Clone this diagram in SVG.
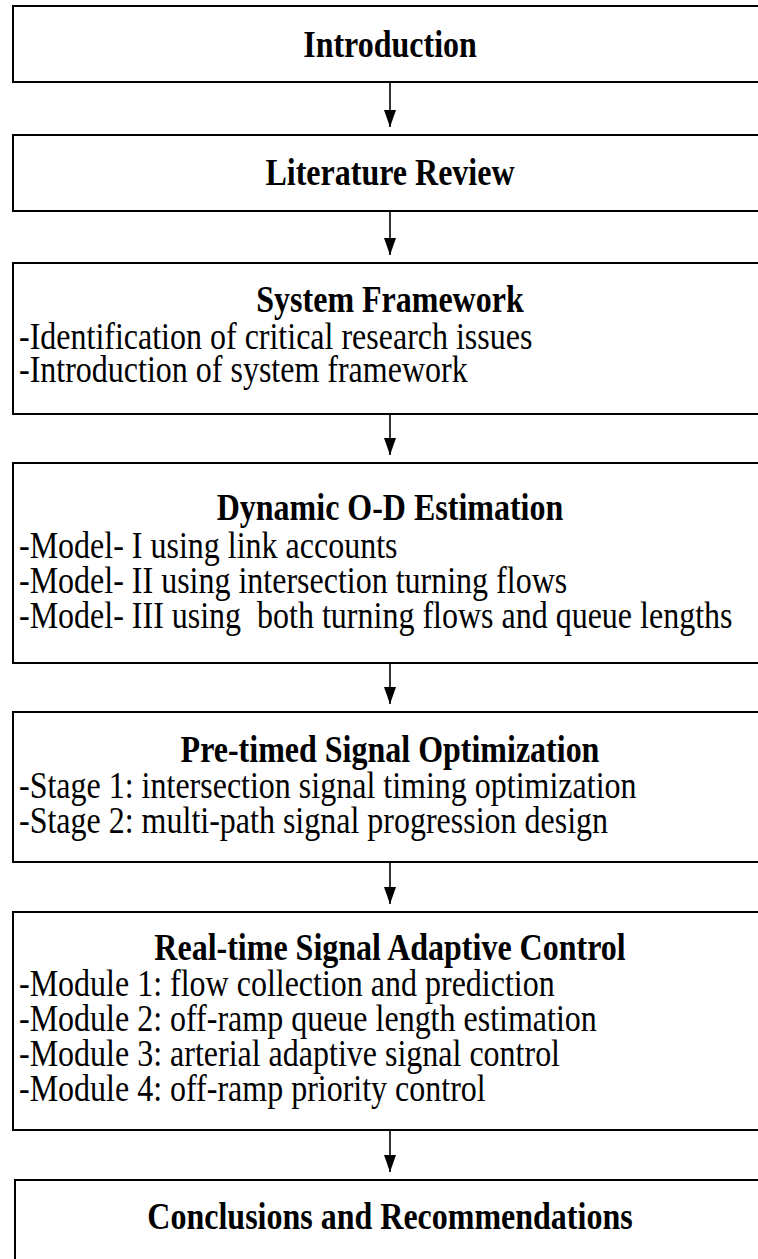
<svg xmlns="http://www.w3.org/2000/svg" width="758" height="1259" viewBox="0 0 758 1259">
  <style>
    .box { fill: #ffffff; stroke: #000000; stroke-width: 2; }
    .title { font-family: "Liberation Serif", "Times New Roman", serif; font-size: 37px; font-weight: bold; text-anchor: middle; fill: #000; }
    .item { font-family: "Liberation Serif", "Times New Roman", serif; font-size: 37px; fill: #000; }
    .link { stroke: #000000; stroke-width: 1.6; fill: none; marker-end: url(#arrow); }
  </style>
  <defs>
    <!-- solid triangular arrowhead, tip at the end of the line -->
    <marker id="arrow" markerWidth="17" markerHeight="12" refX="17" refY="6" orient="auto" markerUnits="userSpaceOnUse" viewBox="0 0 17 12">
      <path d="M0,0 L17,6 L0,12 Z" fill="#000"/>
    </marker>
  </defs>
  <rect width="758" height="1259" fill="#ffffff"/>

  <!-- glyphs are drawn narrow: text is squeezed horizontally to 86.5% -->
  <g id="introduction">
    <rect class="box" x="13" y="6" width="756" height="76"/>
    <text class="title" transform="translate(390 57) scale(0.865 1)">Introduction</text>
  </g>

  <g id="literature-review">
    <rect class="box" x="13" y="135" width="756" height="76"/>
    <text class="title" transform="translate(390 185) scale(0.865 1)">Literature Review</text>
  </g>

  <g id="system-framework">
    <rect class="box" x="13" y="263" width="756" height="151"/>
    <text class="title" transform="translate(390 312) scale(0.865 1)">System Framework</text>
    <text class="item" transform="translate(19 349) scale(0.865 1)">-Identification of critical research issues</text>
    <text class="item" transform="translate(19 382) scale(0.865 1)">-Introduction of system framework</text>
  </g>

  <g id="od-estimation">
    <rect class="box" x="13" y="463" width="756" height="200"/>
    <text class="title" transform="translate(390 520) scale(0.865 1)">Dynamic O-D Estimation</text>
    <text class="item" transform="translate(19 558) scale(0.865 1)">-Model- I using link accounts</text>
    <text class="item" transform="translate(19 593) scale(0.865 1)">-Model- II using intersection turning flows</text>
    <text class="item" transform="translate(19 628) scale(0.865 1)" xml:space="preserve">-Model- III using  both turning flows and queue lengths</text>
  </g>

  <g id="pretimed-optimization">
    <rect class="box" x="13" y="712" width="756" height="150"/>
    <text class="title" transform="translate(390 762) scale(0.865 1)">Pre-timed Signal Optimization</text>
    <text class="item" transform="translate(19 798) scale(0.865 1)">-Stage 1: intersection signal timing optimization</text>
    <text class="item" transform="translate(19 833) scale(0.865 1)">-Stage 2: multi-path signal progression design</text>
  </g>

  <g id="adaptive-control">
    <rect class="box" x="13" y="912" width="756" height="218"/>
    <text class="title" transform="translate(390 960) scale(0.865 1)">Real-time Signal Adaptive Control</text>
    <text class="item" transform="translate(19 996) scale(0.865 1)">-Module 1: flow collection and prediction</text>
    <text class="item" transform="translate(19 1031) scale(0.865 1)">-Module 2: off-ramp queue length estimation</text>
    <text class="item" transform="translate(19 1066) scale(0.865 1)">-Module 3: arterial adaptive signal control</text>
    <text class="item" transform="translate(19 1101) scale(0.865 1)">-Module 4: off-ramp priority control</text>
  </g>

  <g id="conclusions">
    <rect class="box" x="15" y="1180" width="756" height="100"/>
    <text class="title" transform="translate(390 1229) scale(0.865 1)">Conclusions and Recommendations</text>
  </g>

  <g id="connectors">
    <line class="link" x1="390" y1="82" x2="390" y2="127"/>
    <line class="link" x1="390" y1="211" x2="390" y2="255"/>
    <line class="link" x1="390" y1="414" x2="390" y2="455"/>
    <line class="link" x1="390" y1="663" x2="390" y2="704"/>
    <line class="link" x1="390" y1="862" x2="390" y2="904"/>
    <line class="link" x1="390" y1="1130" x2="390" y2="1172"/>
  </g>
</svg>
